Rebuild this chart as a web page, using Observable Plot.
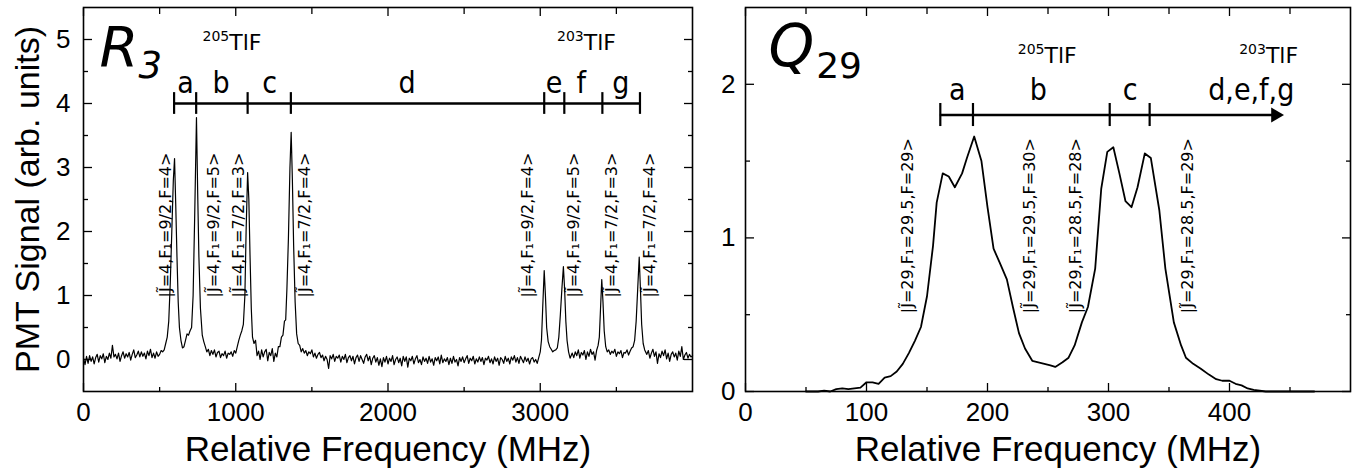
<!DOCTYPE html>
<html><head><meta charset="utf-8">
<script src="https://cdn.jsdelivr.net/npm/d3@7"></script>
<script src="https://cdn.jsdelivr.net/npm/@observablehq/plot@0.6"></script>
<style>
body{margin:0;background:#fff;}
#wrap{position:relative;width:1363px;height:473px;overflow:hidden;}
#left{position:absolute;left:0;top:0;}
#right{position:absolute;left:695px;top:0;}
</style></head><body><div id="wrap"><div id="left"></div><div id="right"></div></div>
<script>
// ---------- R3 spectrum (left panel) ----------
const freqR = [
0,10,20,30,40,50,60,70,80,90,
100,110,120,130,140,150,160,170,180,190,
200,210,220,230,240,250,260,270,280,290,
300,310,320,330,340,350,360,370,380,390,
400,410,420,430,440,450,460,470,480,490,
500,510,520,530,540,550,560,570,580,590,
598,606,614,622,630,640,650,660,670,680,
690,700,710,720,730,742,750,758,768,780,
790,800,810,820,830,840,850,860,870,880,
890,900,910,920,930,940,950,960,970,980,
990,1000,1010,1020,1030,1040,1050,1060,1068,1078,
1086,1094,1102,1110,1120,1130,1140,1150,1160,1170,
1180,1190,1200,1210,1220,1230,1240,1250,1260,1270,
1280,1290,1300,1310,1320,1328,1336,1346,1356,1364,
1372,1380,1390,1400,1410,1420,1430,1440,1450,1460,
1470,1480,1490,1500,1510,1520,1530,1540,1550,1560,
1570,1580,1590,1600,1610,1620,1630,1640,1650,1660,
1670,1680,1690,1700,1710,1720,1730,1740,1750,1760,
1770,1780,1790,1800,1810,1820,1830,1840,1850,1860,
1870,1880,1890,1900,1910,1920,1930,1940,1950,1960,
1970,1980,1990,2000,2010,2020,2030,2040,2050,2060,
2070,2080,2090,2100,2110,2120,2130,2140,2150,2160,
2170,2180,2190,2200,2210,2220,2230,2240,2250,2260,
2270,2280,2290,2300,2310,2320,2330,2340,2350,2360,
2370,2380,2390,2400,2410,2420,2430,2440,2450,2460,
2470,2480,2490,2500,2510,2520,2530,2540,2550,2560,
2570,2580,2590,2600,2610,2620,2630,2640,2650,2660,
2670,2680,2690,2700,2710,2720,2730,2740,2750,2760,
2770,2780,2790,2800,2810,2820,2830,2840,2850,2860,
2870,2880,2890,2900,2910,2920,2930,2940,2950,2960,2970,2980,
2990,3000,3008,3016,3026,3034,3042,3052,3062,3072,
3082,3092,3102,3112,3122,3132,3142,3152,3160,3168,
3176,3186,3196,
3210,3220,3230,3240,3250,3260,3270,3280,3290,3300,3310,3320,3330,3340,3350,3360,3370,
3380,3388,3396,3404,3412,3420,3430,
3440,3450,3460,3470,3480,3490,3500,3510,3520,3530,3540,3550,3560,3570,3580,3590,3600,3610,
3620,3630,3640,3650,3658,3666,3676,3686,
3700,3710,3720,3730,3740,3750,3760,3770,3780,3790,
3800,3810,3820,3830,3840,3850,3860,3870,3880,3890,
3900,3910,3920,3930,3940,3950,3960,3970,3980,3990,4000
];
const signalR = [
0.02,-0.08,0.05,-0.06,0.06,-0.03,0.04,-0.07,0.03,0.08,
-0.04,0.06,0.01,0.09,-0.05,0.05,0.0,0.1,0.02,0.22,
0.04,0.08,0.01,0.1,-0.03,0.06,0.12,0.02,0.09,0.04,
0.11,-0.01,0.08,0.15,0.03,0.07,0.13,0.04,0.12,0.05,
0.1,0.01,0.13,0.06,0.16,0.03,0.1,0.02,0.12,0.05,
0.08,0.14,0.12,0.15,0.25,0.35,0.6,1.2,2.0,2.8,
3.14,2.4,1.6,0.9,0.5,0.3,0.18,0.2,0.3,0.4,
0.38,0.45,0.5,1.0,2.2,3.78,2.6,1.6,0.8,0.38,
0.28,0.2,0.12,0.16,0.06,0.14,0.08,0.15,0.04,0.11,
0.13,0.03,0.09,0.06,0.13,0.02,0.1,0.08,0.12,0.05,
0.14,0.1,0.2,0.3,0.38,0.45,0.55,1.0,2.0,2.92,
2.5,1.6,0.8,0.35,0.25,0.3,0.06,0.13,0.0,0.15,
0.04,0.12,0.16,-0.02,0.11,0.06,0.17,-0.03,0.1,0.04,
0.2,0.2,0.35,0.38,0.6,0.62,1.1,1.9,3.0,3.55,
2.8,1.8,0.9,0.4,0.25,0.22,0.12,0.17,0.1,0.14,
0.06,0.12,0.09,0.15,0.04,0.1,0.02,0.08,0.11,0.03,
0.07,-0.02,0.05,0.0,-0.14,0.06,0.01,0.08,-0.03,0.05,
0.02,0.07,-0.04,0.05,0.0,0.08,-0.05,0.03,0.06,-0.02,
0.05,-0.07,0.03,0.07,-0.03,0.06,0.0,-0.06,0.04,0.08,
-0.02,0.05,-0.08,0.02,0.06,-0.04,0.03,-0.09,0.01,-0.11,
0.03,-0.04,0.05,-0.07,0.02,-0.03,0.06,-0.08,0.0,0.04,
-0.05,0.02,-0.1,0.05,-0.03,0.04,-0.12,0.02,-0.02,0.05,
-0.07,0.01,0.06,-0.05,0.0,-0.08,0.04,-0.03,0.02,-0.06,
0.05,-0.04,0.01,-0.09,0.03,-0.02,0.04,-0.07,0.07,-0.05,
0.01,-0.03,0.03,-0.08,0.02,-0.06,0.05,-0.04,0.0,-0.1,
0.03,-0.03,0.04,-0.05,0.01,0.06,-0.06,0.02,-0.02,0.05,
-0.07,0.01,-0.04,0.04,-0.03,0.03,-0.08,0.02,-0.01,0.05,
-0.05,0.01,-0.07,0.04,-0.03,0.02,-0.09,0.03,0.0,-0.06,
0.05,-0.03,0.02,-0.07,0.04,-0.01,0.06,-0.04,0.03,-0.06,
0.05,0.0,-0.05,0.04,-0.03,0.02,-0.07,0.01,0.03,-0.04,0.0,-0.06,
0.03,0.12,0.3,0.8,1.39,1.0,0.5,0.28,0.2,0.16,
0.12,0.14,0.15,0.18,0.35,0.7,1.1,1.45,1.1,0.6,
0.3,0.12,0.02,
0.1,0.03,0.12,0.06,0.15,0.02,0.11,0.07,0.14,0.0,0.12,0.05,0.16,0.08,0.12,-0.01,0.14,
0.22,0.35,0.8,1.25,0.9,0.45,0.2,
0.12,0.15,0.08,0.13,0.1,0.16,0.05,0.12,0.09,0.14,0.03,0.11,0.1,0.15,0.07,0.13,0.18,0.2,
0.3,0.6,1.1,1.6,1.1,0.55,0.25,0.15,
0.08,0.14,0.02,0.1,0.16,0.05,0.12,-0.06,0.09,0.03,
0.13,0.06,0.15,0.01,0.1,-0.03,0.08,0.12,0.04,0.1,
-0.01,0.13,0.05,0.2,0.0,0.07,0.11,0.02,0.08,0.04,0.06
];
const xTicksMajorR = [0, 1000, 2000, 3000];
const xTicksMinorR = [500, 1500, 2500, 3500];
const yTicksMajorR = [0, 1, 2, 3, 4, 5];
const yTicksMinorR = [0.5, 1.5, 2.5, 3.5, 4.5];
const barTicksR = [595, 740, 1078, 1362, 3026, 3158, 3408, 3655];
const barLevelR = 4.0;
const segLabelsR = ["a", "b", "c", "d", "e", "f", "g"];
const segFreqR = [670, 904, 1223, 2125, 3091, 3269, 3529];
const isoLabels = ["^205TlF", "^203TlF"];
const isoFreqR = [782, 3110];
const peakLabelsR = [
  "|J\u0303=4,F\u2081=9/2,F=4>", "|J\u0303=4,F\u2081=9/2,F=5>",
  "|J\u0303=4,F\u2081=7/2,F=3>", "|J\u0303=4,F\u2081=7/2,F=4>",
  "|J\u0303=4,F\u2081=9/2,F=4>", "|J\u0303=4,F\u2081=9/2,F=5>",
  "|J\u0303=4,F\u2081=7/2,F=3>", "|J\u0303=4,F\u2081=7/2,F=4>"
];
const peakLabelFreqR = [539, 854, 1018, 1452, 2917, 3219, 3469, 3719];

// ---------- Q29 spectrum (right panel) ----------
const freqQ = [50,60,65,70,75,80,85,90,95,100,105,110,115,120,125,130,135,140,145,150,
155,158,163,168,173,179,183,189,195,200,205,210,216,221,226,231,237,242,247,252,
256,262,267,272,278,283,289,294,299,304,309,314,319,324,330,335,342,347,354,360,
364,370,376,383,389,394,400,405,410,415,420,430,450,470];
const signalQ = [0,0,0.005,0,0.015,0.02,0.015,0.02,0.025,0.06,0.06,0.05,0.09,0.1,0.13,0.18,0.25,0.33,0.42,0.62,
0.95,1.23,1.42,1.40,1.33,1.42,1.52,1.66,1.50,1.2,0.93,0.84,0.73,0.55,0.38,0.28,0.2,0.19,0.18,0.17,
0.16,0.19,0.22,0.3,0.45,0.55,0.80,1.32,1.56,1.59,1.42,1.24,1.20,1.33,1.55,1.52,1.18,0.80,0.45,0.30,
0.22,0.18,0.15,0.11,0.08,0.07,0.07,0.05,0.04,0.02,0.01,0,0,0];
const xTicksMajorQ = [0, 100, 200, 300, 400];
const xTicksMinorQ = [50, 150, 250, 350, 450];
const yTicksMajorQ = [0, 1, 2];
const yTicksMinorQ = [0.5, 1.5];
const barTicksQ = [161, 188, 301, 334];
const arrowEndQ = 445;
const barLevelQ = 1.8;
const segLabelsQ = ["a", "b", "c", "d,e,f,g"];
const segFreqQ = [175, 242, 318, 418];
const isoFreqQ = [225, 408];
const peakLabelsQ = [
  "|J\u0303=29,F\u2081=29.5,F=29>", "|J\u0303=29,F\u2081=29.5,F=30>",
  "|J\u0303=29,F\u2081=28.5,F=28>", "|J\u0303=29,F\u2081=28.5,F=29>"
];
const peakLabelFreqQ = [134, 235, 273, 366];

const xTitle = "Relative Frequency (MHz)";
const yTitle = "PMT Signal (arb. units)";

// ---------- helpers ----------
const tickFont = "Liberation Sans, Arial, sans-serif";
const annFont = "DejaVu Sans, sans-serif";
const segFont = "'DejaVu Sans Condensed', 'DejaVu Sans', sans-serif";
function frameAxes(xMaj, xMin, yMaj, yMin, yPad) {
  const fmt = d => String(d);
  const none = () => "";
  return [
    Plot.axisX({ticks: xMaj, tickSize: -8, tickPadding: 19, tickFormat: fmt, fontSize: 26, fontFamily: tickFont, label: null, strokeWidth: 1.3}),
    Plot.axisX({ticks: xMin, tickSize: -4, tickFormat: none, label: null, strokeWidth: 1.3}),
    Plot.axisX({anchor: "top", ticks: xMaj, tickSize: -8, tickFormat: none, label: null, strokeWidth: 1.3}),
    Plot.axisX({anchor: "top", ticks: xMin, tickSize: -6, tickFormat: none, label: null, strokeWidth: 1.3}),
    Plot.axisY({ticks: yMaj, tickSize: -9, tickPadding: yPad, tickFormat: fmt, fontSize: 26, fontFamily: tickFont, label: null, strokeWidth: 1.3}),
    Plot.axisY({ticks: yMin, tickSize: -5, tickFormat: none, label: null, strokeWidth: 1.3}),
    Plot.axisY({anchor: "right", ticks: yMaj, tickSize: -9, tickFormat: none, label: null, strokeWidth: 1.3}),
    Plot.axisY({anchor: "right", ticks: yMin, tickSize: -5, tickFormat: none, label: null, strokeWidth: 1.3}),
    Plot.frame({stroke: "#000", strokeWidth: 1.6})
  ];
}
function richText(svg, o) {
  d3.select(svg).selectAll("text").each(function () {
    const s = this.textContent;
    let m = /^\^(\d+)(.+)$/.exec(s);
    if (m) {
      const t = d3.select(this).text("");
      t.append("tspan").attr("font-size", o.supSize).attr("dy", -o.supRaise).text(m[1]);
      t.append("tspan").attr("dy", o.supRaise).text(m[2]);
      return;
    }
    m = /^(\D+)_(\d+)$/.exec(s);
    if (m) {
      const t = d3.select(this).text("");
      t.append("tspan").text(m[1]);
      t.append("tspan").attr("font-size", o.subSize).attr("font-style", o.subStyle).attr("dx", o.subDx).attr("dy", o.subShift).text(m[2]);
    }
  });
}

const dataR = freqR.map((f, i) => ({f, s: signalR[i]}));
const dataQ = freqQ.map((f, i) => ({f, s: signalQ[i]}));

// ---------- left plot ----------
const left = Plot.plot({
  width: 695, height: 473,
  marginLeft: 83, marginRight: 3, marginTop: 7, marginBottom: 82,
  x: {domain: [0, 4000], label: null},
  y: {domain: [-0.5, 5.5], label: null},
  style: {fontFamily: tickFont, background: "transparent", color: "#000", overflow: "visible"},
  marks: [
    ...frameAxes(xTicksMajorR, xTicksMinorR, yTicksMajorR, yTicksMinorR, 22),
    Plot.line(dataR, {x: "f", y: "s", stroke: "#000", strokeWidth: 1.2}),
    Plot.ruleY([barLevelR], {x1: () => barTicksR[0], x2: () => barTicksR[barTicksR.length - 1], stroke: "#000", strokeWidth: 2.4}),
    Plot.ruleX(barTicksR, {x: d => d, y1: () => barLevelR - 0.17, y2: () => barLevelR + 0.17, stroke: "#000", strokeWidth: 2.2}),
    Plot.text(segLabelsR, {x: (d, i) => segFreqR[i], y: () => 4.16, lineAnchor: "bottom", fontSize: 30, fontFamily: segFont}),
    Plot.text(isoLabels, {x: (d, i) => isoFreqR[i], y: () => 4.83, textAnchor: "start", lineAnchor: "bottom", fontSize: 22, fontFamily: annFont}),
    Plot.text(["R_3"], {x: () => 105, y: () => 4.59, textAnchor: "start", lineAnchor: "bottom", fontSize: 56, fontStyle: "italic", fontFamily: annFont}),
    Plot.text(peakLabelsR, {x: (d, i) => peakLabelFreqR[i], y: () => 0.97, rotate: -90, textAnchor: "start", lineAnchor: "middle", fontSize: 16, fontFamily: annFont}),
    Plot.text([yTitle], {frameAnchor: "left", dx: -55, rotate: -90, textAnchor: "middle", lineAnchor: "middle", fontSize: 34, fontFamily: tickFont}),
    Plot.text([xTitle], {frameAnchor: "bottom", dy: 69, lineAnchor: "bottom", fontSize: 35, fontFamily: tickFont})
  ]
});
richText(left, {supSize: 14, supRaise: 9, subSize: 37, subShift: 12, subStyle: "italic", subDx: 0});
document.getElementById("left").append(left);

// ---------- right plot ----------
const right = Plot.plot({
  width: 668, height: 473,
  marginLeft: 50, marginRight: 13, marginTop: 7, marginBottom: 82,
  x: {domain: [0, 500], label: null},
  y: {domain: [0, 2.5], label: null},
  style: {fontFamily: tickFont, background: "transparent", color: "#000", overflow: "visible"},
  marks: [
    ...frameAxes(xTicksMajorQ, xTicksMinorQ, yTicksMajorQ, yTicksMinorQ, 19),
    Plot.line(dataQ, {x: "f", y: "s", stroke: "#000", strokeWidth: 1.8}),
    Plot.ruleY([barLevelQ], {x1: () => barTicksQ[0], x2: () => arrowEndQ - 6, stroke: "#000", strokeWidth: 2.4}),
    Plot.dot([arrowEndQ], {x: d => d - 7, y: () => barLevelQ, symbol: "triangle", rotate: 90, r: 5.5, fill: "#000", stroke: null}),
    Plot.ruleX(barTicksQ, {x: d => d, y1: () => barLevelQ - 0.075, y2: () => barLevelQ + 0.075, stroke: "#000", strokeWidth: 2.2}),
    Plot.text(segLabelsQ, {x: (d, i) => segFreqQ[i], y: () => 1.9, lineAnchor: "bottom", fontSize: 30, fontFamily: segFont}),
    Plot.text(isoLabels, {x: (d, i) => isoFreqQ[i], y: () => 2.14, textAnchor: "start", lineAnchor: "bottom", fontSize: 22, fontFamily: annFont}),
    Plot.text(["Q_29"], {x: () => 19, y: () => 2.12, textAnchor: "start", lineAnchor: "bottom", fontSize: 58, fontStyle: "italic", fontFamily: annFont}),
    Plot.text(peakLabelsQ, {x: (d, i) => peakLabelFreqQ[i], y: () => 0.51, rotate: -90, textAnchor: "start", lineAnchor: "middle", fontSize: 16, fontFamily: annFont}),
    Plot.text([xTitle], {frameAnchor: "bottom", dy: 69, dx: 10, lineAnchor: "bottom", fontSize: 35, fontFamily: tickFont})
  ]
});
richText(right, {supSize: 14, supRaise: 9, subSize: 36, subShift: 12, subStyle: "normal", subDx: 2});
document.getElementById("right").append(right);
</script>
</body></html>
